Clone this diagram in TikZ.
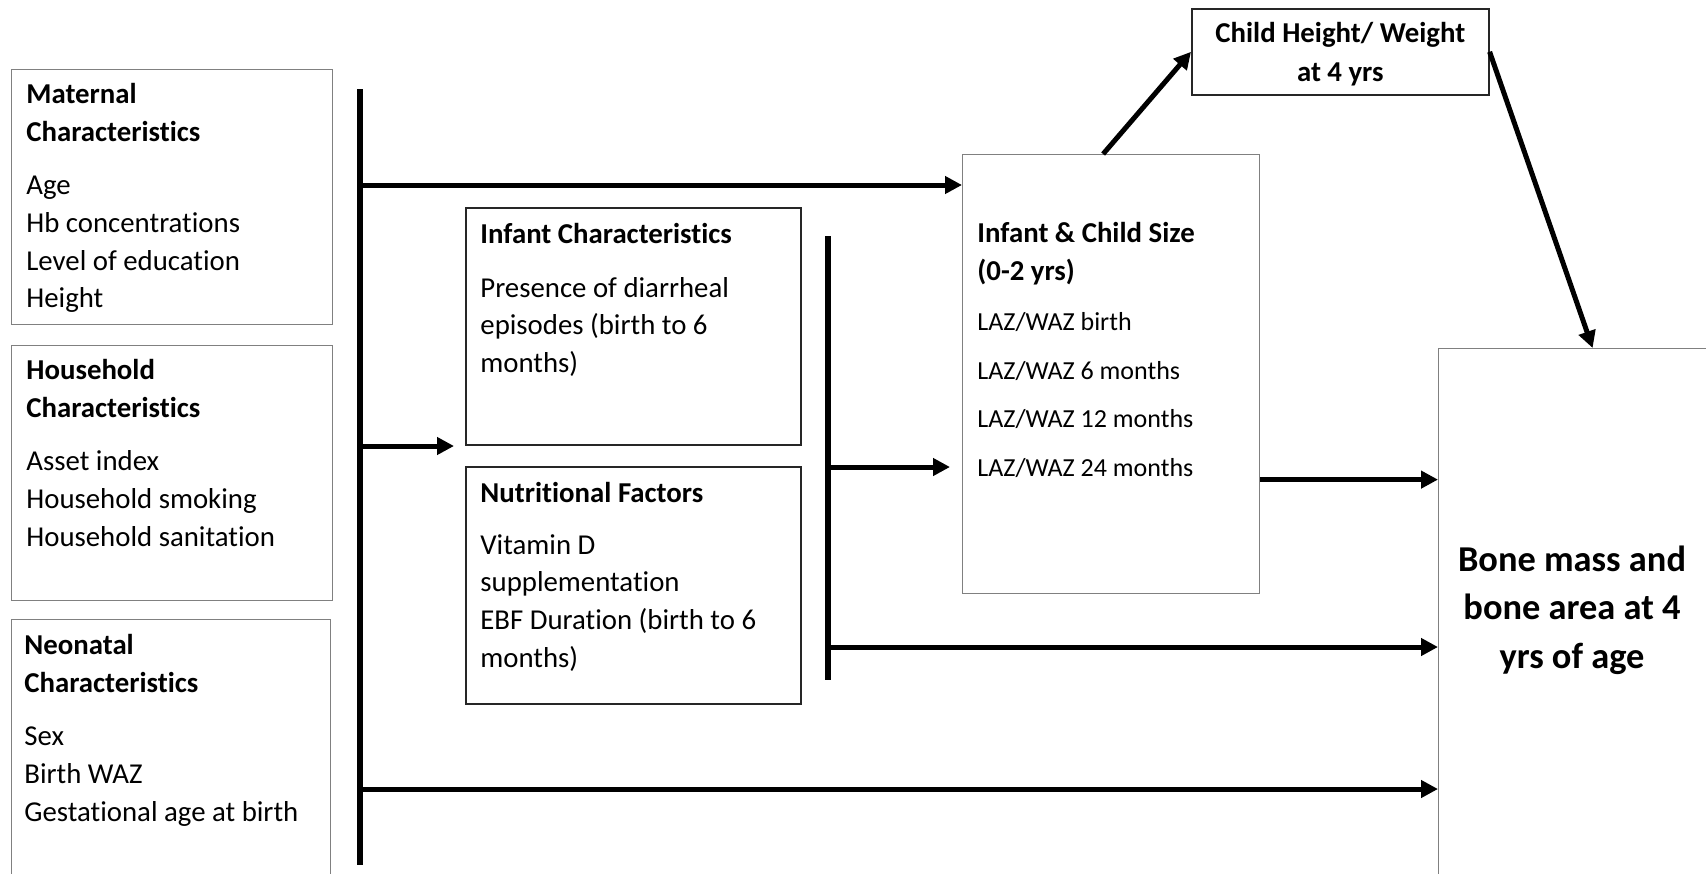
\documentclass[tikz,border=0pt]{standalone}
\usepackage{fontspec}
\setmainfont{Carlito}[Ligatures=CommonOff]
\usetikzlibrary{arrows.meta, positioning}

\begin{document}
\begin{tikzpicture}[x=0.5pt, y=-0.5pt,
	box/.style={draw=black!50, line width=0.6pt, inner sep=0pt, anchor=north west},
	darkbox/.style={box, draw=black!85, line width=0.8pt},
	txt/.style={inner sep=0pt, align=left, font=\fontsize{14.4}{18.8}\selectfont},
	bar/.style={line width=2.8pt},
	flow/.style={line width=2.5pt, -{Triangle[length=8.5pt, width=8.5pt]}}]
	\useasboundingbox (0,0) rectangle (1706,873);

	% Boxes
	\node[box, minimum width=160.5pt, minimum height=127.5pt] (mat) at (11,69) {};
	\node[box, minimum width=160.5pt, minimum height=127.5pt] (hh) at (11,345) {};
	\node[box, minimum width=159.5pt, minimum height=140.5pt] (neo) at (11,619) {};
	\node[darkbox, minimum width=167.5pt, minimum height=118.5pt] (inf) at (465,207) {};
	\node[darkbox, minimum width=167.5pt, minimum height=118.5pt] (nut) at (465,466) {};
	\node[box, minimum width=148.5pt, minimum height=219.5pt] (size) at (962,154) {};
	\node[darkbox, minimum width=148.5pt, minimum height=43pt] (cht) at (1191,8) {};
	\node[box, minimum width=154pt, minimum height=276pt] (bone) at (1438,348) {};

	% Texts
	\node[txt, below right=7pt and 7.5pt of mat.north west] (mattxt)
		{\textbf{Maternal}\\\textbf{Characteristics}\\[8pt]Age\\Hb concentrations\\Level of education\\Height};
	\node[txt, below right=7pt and 7.5pt of hh.north west] (hhtxt)
		{\textbf{Household}\\\textbf{Characteristics}\\[8pt]Asset index\\Household smoking\\Household sanitation};
	\node[txt, below right=7.5pt and 6.5pt of neo.north west] (neotxt)
		{\textbf{Neonatal}\\\textbf{Characteristics}\\[8pt]Sex\\Birth WAZ\\Gestational age at birth};
	\node[txt, below right=8pt and 7.5pt of inf.north west] (inftxt)
		{\textbf{Infant Characteristics}\\[8pt]Presence of diarrheal\\episodes (birth to 6\\months)};
	\node[txt, below right=8pt and 7.5pt of nut.north west] (nuttxt)
		{\textbf{Nutritional Factors}\\[7pt]Vitamin D\\supplementation\\EBF Duration (birth to 6\\months)};
	\node[txt, below right=34pt and 7.5pt of size.north west] (sizetxt)
		{\textbf{Infant \& Child Size}\\\textbf{(0-2 yrs)}\\[6.5pt]{\fontsize{13}{24}\selectfont LAZ/WAZ birth}\\[5.4pt]
		{\fontsize{13}{24}\selectfont LAZ/WAZ 6 months}\\[5.4pt]{\fontsize{13}{24}\selectfont LAZ/WAZ 12 months}\\[5.4pt]
		{\fontsize{13}{24}\selectfont LAZ/WAZ 24 months}};
	\node[txt, align=center, font=\fontsize{14.4}{19.5}\selectfont\bfseries, yshift=-1pt] (chttxt) at (cht.center)
		{Child Height/ Weight\\at 4 yrs};
	\node[txt, align=center, font=\fontsize{18.2}{24.3}\selectfont\bfseries] (bonetxt) at (1572,610)
		{Bone mass and\\bone area at 4\\yrs of age};

	% Bars
	\coordinate (b1top) at (360,89);
	\coordinate (b1bot) at (360,865);
	\coordinate (b2top) at (828,236);
	\coordinate (b2bot) at (828,680);
	\draw[bar] (b1top) -- (b1bot);
	\draw[bar] (b2top) -- (b2bot);

	% Arrows from the bars
	\coordinate (b1a) at (360,185);
	\coordinate (b1b) at (360,446);
	\coordinate (b1c) at (360,789);
	\coordinate (b2a) at (828,467);
	\coordinate (b2b) at (828,647);
	\draw[flow] (b1a) -- (b1a -| size.west);
	\draw[flow, shorten >=5.5pt] (b1b) -- (b1b -| inf.west);
	\draw[flow] (b1c) -- (b1c -| bone.west);
	\draw[flow, shorten >=6pt] (b2a) -- (b2a -| size.west);
	\draw[flow] (b2b) -- (b2b -| bone.west);

	% Size to outcome
	\coordinate (sz) at ([yshift=-52.75pt]size.east);
	\draw[flow] (sz) -- (sz -| bone.west);
	\draw[flow] ([xshift=-4pt]size.north) -- (cht.west);
	\draw[flow] (cht.east) -- (bone.north);
\end{tikzpicture}
\end{document}
